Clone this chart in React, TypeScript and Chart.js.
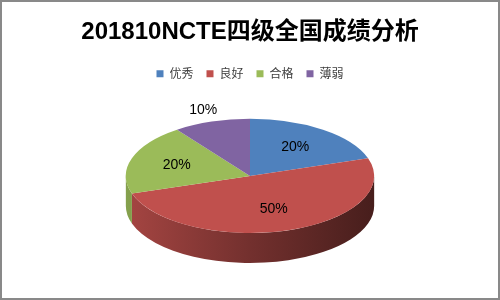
import React, { useEffect, useRef } from "react";
import { Chart, registerables } from "chart.js";

Chart.register(...registerables);

const TITLE = "201810NCTE四级全国成绩分析";
const categories = ["优秀", "良好", "合格", "薄弱"];
const values = [20, 50, 20, 10];
const colors = ["#4F81BD", "#C0504D", "#9BBB59", "#8064A2"];

function shade(hex: string, k: number): string {
  const n = parseInt(hex.slice(1), 16);
  const r = Math.round(((n >> 16) & 255) * k);
  const g = Math.round(((n >> 8) & 255) * k);
  const b = Math.round((n & 255) * k);
  return `rgb(${r},${g},${b})`;
}

const pie3d = {
  id: "pie3d",
  beforeDatasetsDraw(chart: any, _args: any, opts: any) {
    const ctx = chart.ctx;
    const arcs = chart.getDatasetMeta(0).data as any[];
    chart.$pie3dSaved = false;
    if (!arcs.length) return;
    const { x, y, outerRadius } = arcs[0];
    const rx = outerRadius * opts.scaleX;
    const ry = outerRadius * opts.scaleY;
    const d = opts.depth;
    const bg = chart.data.datasets[0].backgroundColor;
    arcs.forEach((arc: any, i: number) => {
      const a = Math.max(arc.startAngle, 0);
      const b = Math.min(arc.endAngle, Math.PI);
      if (b <= a) return;
      const base = bg[i];
      const g = ctx.createLinearGradient(x - rx, 0, x + rx, 0);
      g.addColorStop(0, shade(base, 0.86));
      g.addColorStop(0.5, shade(base, 0.6));
      g.addColorStop(1, shade(base, 0.37));
      ctx.save();
      ctx.beginPath();
      ctx.ellipse(x, y, rx, ry, 0, a, b, false);
      ctx.ellipse(x, y + d, rx, ry, 0, b, a, true);
      ctx.closePath();
      ctx.fillStyle = g;
      ctx.fill();
      ctx.restore();
    });
    ctx.save();
    ctx.translate(x, y);
    ctx.scale(opts.scaleX, opts.scaleY);
    ctx.translate(-x, -y);
    chart.$pie3dSaved = true;
  },
  afterDatasetsDraw(chart: any, _args: any, opts: any) {
    const ctx = chart.ctx;
    if (chart.$pie3dSaved) ctx.restore();
    const arcs = chart.getDatasetMeta(0).data as any[];
    if (!arcs.length) return;
    const data = chart.data.datasets[0].data as number[];
    const total = data.reduce((s, v) => s + v, 0);
    ctx.save();
    ctx.font = "14px 'Liberation Sans', Arial, sans-serif";
    ctx.fillStyle = "#000";
    ctx.textAlign = "center";
    ctx.textBaseline = "middle";
    arcs.forEach((arc: any, i: number) => {
      const share = data[i] / total;
      const mid = (arc.startAngle + arc.endAngle) / 2;
      const f = share < 0.12 ? 1.22 : 0.62;
      const rx = arc.outerRadius * opts.scaleX;
      const ry = arc.outerRadius * opts.scaleY;
      const px = arc.x + f * rx * Math.cos(mid);
      const py = arc.y + f * ry * Math.sin(mid);
      ctx.fillText(`${Math.round(share * 100)}%`, px, py);
    });
    ctx.restore();
  },
  afterDraw(chart: any) {
    const ctx = chart.ctx;
    ctx.save();
    ctx.strokeStyle = "#898989";
    ctx.lineWidth = 2;
    ctx.strokeRect(1, 1, chart.width - 2, chart.height - 2);
    ctx.restore();
  },
};

export default function App() {
  const ref = useRef<HTMLCanvasElement | null>(null);
  useEffect(() => {
    document.body.style.margin = "0";
    const canvas = ref.current;
    if (!canvas) return;
    const chart = new Chart(canvas, {
      type: "pie",
      data: {
        labels: categories,
        datasets: [
          {
            data: values,
            backgroundColor: colors,
            borderWidth: 0,
            clip: false,
          } as any,
        ],
      },
      options: {
        responsive: false,
        animation: false,
        events: [],
        layout: { padding: { top: 0, bottom: 38, left: 0, right: 0 } },
        plugins: {
          title: {
            display: true,
            text: TITLE,
            color: "#000",
            font: { size: 24, weight: "bold", family: "'Liberation Sans', 'Noto Sans CJK SC', sans-serif" },
            padding: { top: 18, bottom: 8 },
          },
          legend: {
            display: true,
            position: "top",
            labels: {
              boxWidth: 7,
              boxHeight: 7,
              padding: 13,
              color: "#404040",
              font: { size: 12, family: "'Noto Sans CJK SC', 'Liberation Sans', sans-serif" },
            },
          },
          tooltip: { enabled: false },
          pie3d: { scaleX: 1.442, scaleY: 0.663, depth: 30 },
        } as any,
      },
      plugins: [pie3d],
    });
    return () => chart.destroy();
  }, []);
  return (
    <div style={{ width: 500, height: 300, background: "#fff" }}>
      <canvas ref={ref} width={500} height={300} style={{ display: "block" }} />
    </div>
  );
}
